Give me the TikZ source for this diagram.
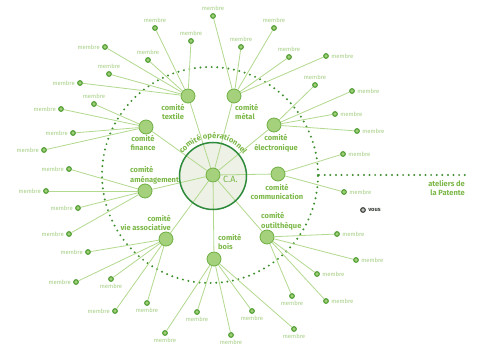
\documentclass[tikz,border=0pt]{standalone}
\usepackage{fontspec}
\setmainfont{Fira Sans}
\usetikzlibrary{decorations.text}
\definecolor{linegr}{HTML}{B3D98E}
\definecolor{mtext}{HTML}{A6CF85}
\definecolor{ctext}{HTML}{7CB848}
\definecolor{cfill}{HTML}{A5D07C}
\definecolor{cdraw}{HTML}{6FB044}
\definecolor{mdraw}{HTML}{4E9C32}
\definecolor{mfill}{HTML}{A0CF78}
\definecolor{dotgr}{HTML}{3E8F2E}
\definecolor{opgr}{HTML}{2E8B3B}
\definecolor{opfill}{HTML}{EDF1E6}
\definecolor{vousgr}{HTML}{3A3F38}
\tikzset{
  comm/.style={circle, fill=cfill, draw=cdraw, line width=0.8pt, minimum size=14pt, inner sep=0pt},
  mnode/.style={circle, fill=mfill, draw=mdraw, line width=1.1pt, minimum size=4.6pt, inner sep=0pt},
  mlab/.style={text=mtext, font=\fontsize{5.9}{6}\selectfont, inner sep=1pt, label distance=1.2pt},
  clab/.style={text=ctext, font=\bfseries\fontsize{7.5}{9.6}\selectfont, align=center, inner sep=0pt},
  link/.style={draw=linegr, line width=0.8pt},
  dotring/.style={draw=dotgr, line width=2.2pt, dash pattern=on 0pt off 5.6pt, line cap=round},
}
\begin{document}
\begin{tikzpicture}[x=1pt,y=-1pt]
\useasboundingbox (0,0) rectangle (477,345);
\fill[white] (0,0) rectangle (477,345);
% dotted ring
\node[dotring, circle, minimum size=216pt, inner sep=0pt] (ring) at (210,175) {};
\coordinate (atlend) at (465,175);
\draw[dotring] (ring.east) -- (atlend);
% operational committee circle
\node[circle, fill=opfill, minimum size=67pt, inner sep=0pt] (op) at (213,176) {};
% committees
\node[comm] (CA) at (213,175) {};
\node[comm] (T) at (188,96) {};
\node[comm] (M) at (234,96) {};
\node[comm] (E) at (274,125) {};
\node[comm] (F) at (146,127) {};
\node[comm] (A) at (145,191) {};
\node[comm] (C) at (278,174) {};
\node[comm] (V) at (166,239) {};
\node[comm] (B) at (214,259) {};
\node[comm] (O) at (267,237) {};
\foreach \c in {T,M,E,F,A,C,V,B,O} \draw[link] (\c) -- (CA);
\node[circle, draw=opgr, line width=1.5pt, minimum size=67pt, inner sep=0pt] (opb) at (op.center) {};
\path[decorate, decoration={text along path, text align=center,
   text={|\color{ctext}\bfseries\fontsize{7.6}{7.6}\selectfont|comité opérationnel}}]
   (213,176) ++(-150:37.5) arc[start angle=-150, end angle=-30, radius=37.5];
\node[text=ctext, font=\fontsize{9}{9}\selectfont, anchor=west, inner sep=0pt] (CAl) at (223,179) {C.A.};
% committee labels
\node[clab] (Tl) at (173,112) {comité\\textile};
\node[clab, align=left, anchor=west] (Ml) at (235,112) {comité\\métal};
\node[clab] (El) at (276,143) {comité\\électronique};
\node[clab] (Fl) at (143,143) {comité\\finance};
\node[clab, align=left, anchor=west] (Al) at (130,175) {comité\\aménagement};
\node[clab] (Cl) at (277,192) {comité\\communication};
\node[clab, align=right, anchor=east] (Vl) at (171,223) {comité\\vie associative};
\node[clab, align=left, anchor=west] (Bl) at (218,242) {comité\\bois};
\node[clab, align=left, anchor=west] (Ol) at (261,221) {comité\\outilthèque};
% members
\foreach \p/\d [count=\i] in {(155,28)/above,(191,41)/above,(105,47)/left,(148,60)/above,(109,74)/above,(80,83)/left}{
  \node[mnode,label={[mlab]\d:membre}] (t\i) at \p {};
  \draw[link] (T) -- (t\i);}
\foreach \p/\d [count=\i] in {(213,16)/above,(274,28)/above,(241,47)/above,(289,57)/above,(326,56)/right}{
  \node[mnode,label={[mlab]\d:membre}] (m\i) at \p {};
  \draw[link] (M) -- (m\i);}
\foreach \p/\d [count=\i] in {(315,85)/above,(352,91)/right,(335,114)/right,(357,131)/right}{
  \node[mnode,label={[mlab]\d:membre}] (e\i) at \p {};
  \draw[link] (E) -- (e\i);}
\foreach \p/\d [count=\i] in {(343,154)/right,(344,192)/right}{
  \node[mnode,label={[mlab]\d:membre}] (c\i) at \p {};
  \draw[link] (C) -- (c\i);}
\foreach \p/\d [count=\i] in {(94,104)/above,(61,109)/left,(73,133)/left,(44,150)/left}{
  \node[mnode,label={[mlab]\d:membre}] (f\i) at \p {};
  \draw[link] (F) -- (f\i);}
\foreach \p/\d [count=\i] in {(69,169)/left,(46,191)/left,(78,208)/left,(69,234)/left}{
  \node[mnode,label={[mlab]\d:membre}] (a\i) at \p {};
  \draw[link] (A) -- (a\i);}
\foreach \p/\d [count=\i] in {(88,252)/left,(76,282)/left,(111,279)/below,(115,311)/left,(147,303)/below}{
  \node[mnode,label={[mlab]\d:membre}] (v\i) at \p {};
  \draw[link] (V) -- (v\i);}
\foreach \p/\d [count=\i] in {(165,333)/below,(197,312)/below,(231,335)/below,(252,311)/below,(294,329)/below}{
  \node[mnode,label={[mlab]\d:membre}] (b\i) at \p {};
  \draw[link] (B) -- (b\i);}
\foreach \p/\d [count=\i] in {(337,234)/right,(356,260)/right,(317,274)/right,(292,296)/below,(326,301)/right}{
  \node[mnode,label={[mlab]\d:membre}] (o\i) at \p {};
  \draw[link] (O) -- (o\i);}
% right side
\node[clab, align=right, anchor=east] (atl) at (465,188) {ateliers de\\la Patente};
\node[mnode, draw=vousgr, fill=white!70!vousgr, label={[text=vousgr, font=\bfseries\fontsize{5.8}{6}\selectfont, inner sep=1pt, label distance=1.2pt]right:vous}] (vous) at (363,210) {};
\end{tikzpicture}
\end{document}
